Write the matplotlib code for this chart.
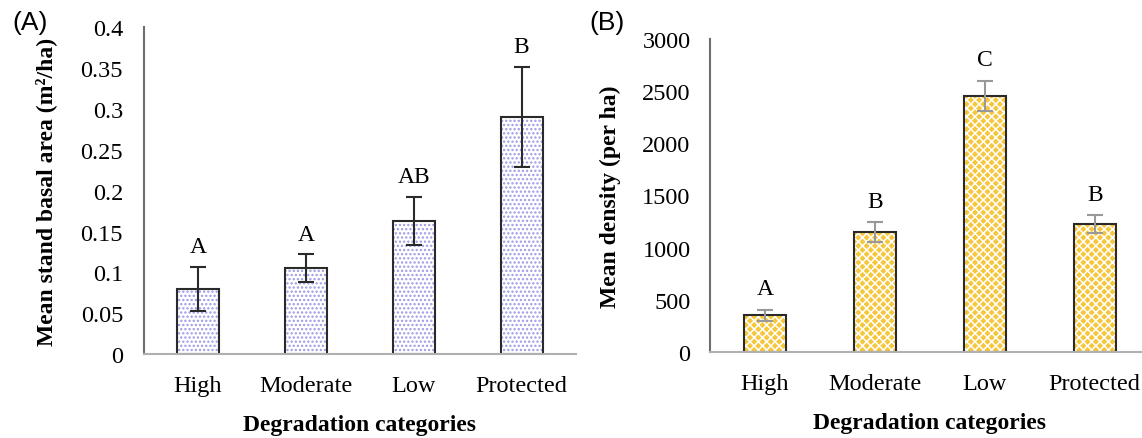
import matplotlib
matplotlib.use("Agg")
import matplotlib.pyplot as plt

categories = ["High", "Moderate", "Low", "Protected"]
basal_area = [0.080, 0.105, 0.163, 0.290]
basal_err = [0.027, 0.017, 0.029, 0.061]
basal_letters = ["A", "A", "AB", "B"]
basal_ticks = [0, 0.05, 0.1, 0.15, 0.2, 0.25, 0.3, 0.35, 0.4]
basal_ticklabels = ["0", "0.05", "0.1", "0.15", "0.2", "0.25", "0.3", "0.35", "0.4"]

density = [350, 1150, 2455, 1225]
density_err = [55, 95, 145, 85]
density_letters = ["A", "B", "C", "B"]
density_ticks = [0, 500, 1000, 1500, 2000, 2500, 3000]

SERIF = ["Liberation Serif", "DejaVu Serif"]
plt.rcParams["font.family"] = SERIF
plt.rcParams["hatch.linewidth"] = 1.1

fig = plt.figure(figsize=(11.42, 4.39), dpi=100)
axA = fig.add_axes([0.126, 0.191, 0.378, 0.745])
axB = fig.add_axes([0.6217, 0.196, 0.385, 0.713])

x = list(range(len(categories)))

def style(ax, ypad):
    for s in ["top", "right"]:
        ax.spines[s].set_visible(False)
    ax.spines["left"].set_color("#6e6e6e")
    ax.spines["left"].set_linewidth(1.5)
    ax.spines["bottom"].set_color("#b0b0b0")
    ax.spines["bottom"].set_linewidth(1.5)
    ax.tick_params(length=0, labelsize=17.5)
    ax.tick_params(axis="y", pad=ypad)
    ax.set_xticks(x)
    ax.set_xticklabels(categories)
    ax.tick_params(axis="x", pad=15)
    ax.set_xlim(-0.5, 3.5)
    ax.set_xlabel("Degradation categories", fontsize=17, fontweight="bold", labelpad=13)

# Panel A
axA.bar(x, basal_area, width=0.39, color="white", edgecolor="#9a9ae6", hatch="....", linewidth=0)
axA.bar(x, basal_area, width=0.39, fill=False, edgecolor="#2a2a2a", linewidth=1.5)
axA.errorbar(x, basal_area, yerr=basal_err, fmt="none", ecolor="#2a2a2a", elinewidth=1.5, capsize=6, capthick=1.5)
for xi, v, e, t in zip(x, basal_area, basal_err, basal_letters):
    axA.text(xi, v + e + 0.012, t, ha="center", va="bottom", fontsize=17)
axA.set_ylim(0, 0.4)
axA.set_yticks(basal_ticks)
axA.set_yticklabels(basal_ticklabels)
style(axA, 15)
axA.set_ylabel("Mean stand basal area (m²/ha)", fontsize=17, fontweight="bold", labelpad=17)

# Panel B
axB.bar(x, density, width=0.38, color="#f6c73c", edgecolor="white", hatch="xxxx", linewidth=0)
axB.bar(x, density, width=0.38, fill=False, edgecolor="#2a2a2a", linewidth=1.5)
axB.errorbar(x, density, yerr=density_err, fmt="none", ecolor="#999999", elinewidth=1.5, capsize=6, capthick=1.5)
for xi, v, e, t in zip(x, density, density_err, density_letters):
    axB.text(xi, v + e + 100, t, ha="center", va="bottom", fontsize=17)
axB.set_ylim(0, 3000)
axB.set_yticks(density_ticks)
style(axB, 14)
axB.set_ylabel("Mean density (per ha)", fontsize=17, fontweight="bold", labelpad=15)

fig.text(0.011, 0.975, "(A)", fontsize=19, family=["Liberation Sans", "DejaVu Sans"], va="top")
fig.text(0.516, 0.975, "(B)", fontsize=19, family=["Liberation Sans", "DejaVu Sans"], va="top")

fig.savefig("out.png", dpi=100)
